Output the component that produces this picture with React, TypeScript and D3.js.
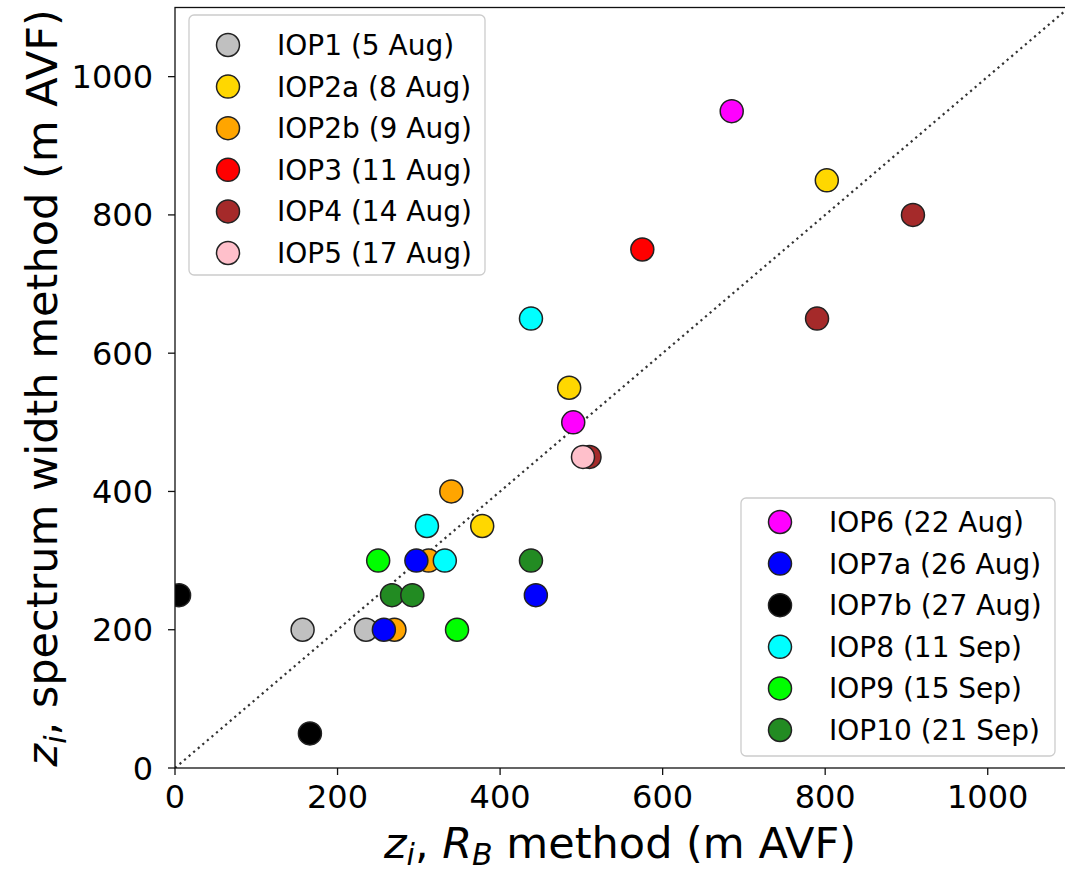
import * as d3 from "d3";
import React from "react";

// IOP cases, legend labels and marker colours
const labels = [
  "IOP1 (5 Aug)", "IOP2a (8 Aug)", "IOP2b (9 Aug)", "IOP3 (11 Aug)",
  "IOP4 (14 Aug)", "IOP5 (17 Aug)", "IOP6 (22 Aug)", "IOP7a (26 Aug)",
  "IOP7b (27 Aug)", "IOP8 (11 Sep)", "IOP9 (15 Sep)", "IOP10 (21 Sep)",
];
const colors = [
  "silver", "gold", "orange", "red", "brown", "pink",
  "magenta", "blue", "black", "cyan", "lime", "forestgreen",
];

// zi from the RB method (x) and the spectrum width method (y)
const rbValues = [
  [157, 235],
  [802, 485, 378],
  [340, 312, 270],
  [575],
  [908, 790, 510],
  [502],
  [685, 490],
  [297, 257, 444],
  [5, 166],
  [438, 310, 332],
  [250, 347],
  [267, 292, 438],
];
const swValues = [
  [200, 200],
  [850, 550, 350],
  [400, 300, 200],
  [750],
  [800, 650, 450],
  [450],
  [950, 500],
  [300, 200, 250],
  [250, 50],
  [650, 350, 300],
  [300, 200],
  [250, 250, 300],
];

const xTicks = [0, 200, 400, 600, 800, 1000];
const yTicks = [0, 200, 400, 600, 800, 1000];

const W = 1065;
const H = 874;
const m = { left: 175, right: 1069, top: 7.5, bottom: 768 };
const font = "DejaVu Sans, sans-serif";

export default function App() {
  const x = d3.scaleLinear().domain([0, 1100]).range([m.left, m.right]);
  const y = d3.scaleLinear().domain([0, 1100]).range([m.bottom, m.top]);

  const legendRow = (i: number, lx: number, ly: number, k: number) => (
    <g key={i}>
      <circle cx={lx + 39} cy={ly + 30 + k * 41.6} r={11.5} fill={colors[i]} stroke="#222" strokeWidth={1.5} />
      <text x={lx + 88} y={ly + 30 + k * 41.6} dy="0.36em" fontSize={28}>
        {labels[i]}
      </text>
    </g>
  );

  return (
    <svg width={W} height={H} style={{ position: "absolute", left: 0, top: 0, background: "white" }} fontFamily={font}>
      <defs>
        <clipPath id="plot">
          <rect x={m.left} y={m.top} width={m.right - m.left} height={m.bottom - m.top} />
        </clipPath>
      </defs>

      {/* 1:1 line */}
      <line
        x1={x(0)} y1={y(0)} x2={x(1100)} y2={y(1100)}
        stroke="#333" strokeWidth={2.2} strokeDasharray="2.2,3.8"
        clipPath="url(#plot)"
      />

      {/* points */}
      <g clipPath="url(#plot)">
        {rbValues.map((xs, s) =>
          xs.map((v, j) => (
            <circle key={`${s}-${j}`} cx={x(v)} cy={y(swValues[s][j])} r={11.5}
              fill={colors[s]} stroke="#222" strokeWidth={1.5} />
          ))
        )}
      </g>

      {/* spines */}
      <rect x={m.left} y={m.top} width={m.right - m.left} height={m.bottom - m.top}
        fill="none" stroke="#111" strokeWidth={1.3} />

      {/* x axis */}
      {xTicks.map((t) => (
        <g key={t}>
          <line x1={x(t)} x2={x(t)} y1={m.bottom} y2={m.bottom + 7} stroke="#111" strokeWidth={1.3} />
          <text x={x(t)} y={m.bottom + 40} textAnchor="middle" fontSize={32}>{t}</text>
        </g>
      ))}
      {/* y axis */}
      {yTicks.map((t) => (
        <g key={t}>
          <line x1={m.left - 7} x2={m.left} y1={y(t)} y2={y(t)} stroke="#111" strokeWidth={1.3} />
          <text x={m.left - 22} y={y(t)} dy="0.36em" textAnchor="end" fontSize={32}>{t}</text>
        </g>
      ))}

      {/* axis titles */}
      <text x={(m.left + m.right) / 2 - 2} y={858} textAnchor="middle" fontSize={43}>
        <tspan fontStyle="italic">z</tspan>
        <tspan fontStyle="italic" fontSize={30} dy={7}>i</tspan>
        <tspan dy={-7}>, </tspan>
        <tspan fontStyle="italic">R</tspan>
        <tspan fontStyle="italic" fontSize={30} dy={7}>B</tspan>
        <tspan dy={-7}> method (m AVF)</tspan>
      </text>
      <text transform={`translate(57, ${(m.top + m.bottom) / 2}) rotate(-90)`} textAnchor="middle" fontSize={43}>
        <tspan fontStyle="italic">z</tspan>
        <tspan fontStyle="italic" fontSize={30} dy={9}>i</tspan>
        <tspan dy={-9}>, spectrum width method (m AVF)</tspan>
      </text>

      {/* legends */}
      <g>
        <rect x={189} y={15} width={296} height={260} rx={5} fill="white" fillOpacity={0.8} stroke="#ccc" strokeWidth={1.3} />
        {[0, 1, 2, 3, 4, 5].map((i, k) => legendRow(i, 189, 15, k))}
      </g>
      <g>
        <rect x={741} y={498} width={314} height={258} rx={5} fill="white" fillOpacity={0.8} stroke="#ccc" strokeWidth={1.3} />
        {[6, 7, 8, 9, 10, 11].map((i, k) => legendRow(i, 741, 492, k))}
      </g>
    </svg>
  );
}
